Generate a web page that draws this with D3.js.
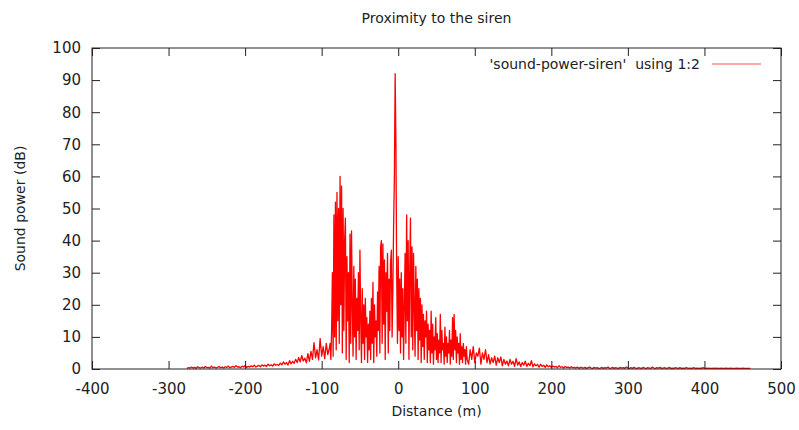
<!DOCTYPE html>
<html>
<head>
<meta charset="utf-8">
<title>Proximity to the siren</title>
<script src="https://d3js.org/d3.v7.min.js"></script>
<style>
  body { margin: 0; background: #fff; }
  text { font-family: "DejaVu Sans", sans-serif; fill: #222; }
</style>
</head>
<body>
<div id="chart"></div>
<script>

// sound power (dB), in three runs of samples

// -276 m to -90 m, every 2 m
var leftStart = -276, leftStep = 2;
var leftTail = [
  0.2,0.4,0.3,0.6,0.3,0.5,0.2,0.7,0.4,0.3,
  0.6,0.3,0.8,0.4,0.5,0.3,0.9,0.4,0.6,0.3,
  0.5,0.8,0.4,0.6,0.3,0.7,0.5,0.9,0.4,0.6,
  0.8,0.5,1.0,0.6,0.7,0.4,0.9,0.6,1.1,0.5,
  0.8,0.6,1.0,0.7,1.2,0.6,0.9,1.1,0.7,1.3,
  0.9,1.2,0.8,1.5,1.0,1.3,0.9,1.6,1.2,1.4,
  1.1,1.8,1.3,2.2,1.5,2.0,1.2,2.6,1.6,2.4,
  1.8,3.0,2.0,3.6,2.2,4.2,2.5,3.4,1.9,4.8,
  2.4,5.5,3.0,8.2,3.5,6.0,2.8,9.5,4.0,7.0,
  3.2,8.0,4.5,6.5
];

// -89 m to 90 m, every 1 m
var coreStart = -89, coreStep = 1;
var core = [
  8,3,12,30,4,48,10,52,6,55,
  15,50,8,60,20,57,5,50,12,40,
  47,3,35,15,30,2,42,8,43,20,
  4,32,10,28,3,22,12,30,6,37,
  15,2,25,8,20,3,22,10,16,2,
  14,6,18,3,22,8,27,2,20,10,
  15,4,24,12,32,5,38,40,8,39,
  14,34,3,30,18,36,5,28,12,33,
  37,10,25,45,60,92,70,30,8,35,
  12,28,5,30,10,25,3,20,36,8,
  48,15,40,3,30,47,10,38,6,36,
  20,4,32,12,28,3,25,9,22,2,
  20,7,17,3,15,10,18,2,14,6,
  12,2,18,5,14,1.5,10,6,16,3,
  11,2,9,5,17,2,12,6,8,1.5,
  13,4,10,2,8,5,12,1.5,9,4,
  16,3,17,6,12,2,10,5,8,1.5,
  11,3,7,2,8,4,6,1.5,7,3
];

// 92 m to 460 m, every 2 m
var rightStart = 92, rightStep = 2;
var rightTail = [
  1.5,6,3,7,2,5,
  4,6.5,1.5,5,3,6,2,4.5,1.5,3.5,
  2,4,1.2,3.5,2,3.8,1,3,1.5,2.5,
  1,3,1.5,2.4,0.8,3.2,1.2,2.2,0.8,2,
  1.2,2.4,0.8,1.8,1,2.6,0.7,1.6,1,1.4,
  0.6,1.5,0.8,1.2,0.5,1.3,0.7,1,0.5,0.9,
  0.6,0.8,0.4,1,0.5,0.7,0.3,0.8,0.5,0.6,
  0.3,0.7,0.4,0.5,0.3,0.6,0.2,0.5,0.4,0.3,
  0.5,0.2,0.4,0.6,0.3,0.2,0.5,0.3,0.4,0.2,
  0.3,0.5,0.2,0.4,0.3,0.6,0.2,0.3,0.5,0.2,
  0.4,0.3,0.2,0.5,0.3,0.4,0.2,0.6,0.3,0.2,
  0.4,0.2,0.5,0.3,0.2,0.4,0.3,0.2,0.5,0.3,
  0.2,0.4,0.3,0.2,0.6,0.3,0.2,0.4,0.3,0.5,
  0.2,0.3,0.4,0.2,0.3,0.5,0.2,0.3,0.2,0.4,
  0.3,0.2,0.4,0.2,0.3,0.2,0.4,0.3,0.2,0.3,
  0.2,0.4,0.2,0.3,0.2,0.3,0.2,0.4,0.2,0.3,
  0.2,0.3,0.2,0.2,0.3,0.2,0.3,0.2,0.2,0.3,
  0.2,0.2,0.3,0.2,0.2,0.3,0.2,0.2,0.2,0.3,
  0.2,0.2,0.2,0.3,0.2,0.2,0.2,0.2,0.2
];

var xTicks = [-400, -300, -200, -100, 0, 100, 200, 300, 400, 500];
var yTicks = [0, 10, 20, 30, 40, 50, 60, 70, 80, 90, 100];

var title = "Proximity to the siren";
var xLabel = "Distance (m)";
var yLabel = "Sound power (dB)";
var legendLabel = "'sound-power-siren'  using 1:2";

var W = 799, H = 430;
var margin = {top: 48, right: 18, bottom: 61, left: 92};
var width = W - margin.left - margin.right,
    height = H - margin.top - margin.bottom;

function run(start, step, values) {
  return values.map(function(v, i) { return {d: start + i * step, p: v}; });
}
var data = run(leftStart, leftStep, leftTail)
  .concat(run(coreStart, coreStep, core))
  .concat(run(rightStart, rightStep, rightTail));

var svg = d3.select("#chart").append("svg")
    .attr("width", W)
    .attr("height", H);

var g = svg.append("g")
    .attr("transform", "translate(" + margin.left + "," + margin.top + ")");

var x = d3.scaleLinear().domain([-400, 500]).range([0, width]);
var y = d3.scaleLinear().domain([0, 100]).range([height, 0]);

// clip to the plot box
svg.append("defs").append("clipPath").attr("id", "clip")
  .append("rect").attr("width", width).attr("height", height);

g.append("path")
    .datum(data)
    .attr("clip-path", "url(#clip)")
    .attr("fill", "none")
    .attr("stroke", "#ff0000")
    .attr("stroke-width", 1.3)
    .attr("stroke-linejoin", "round")
    .attr("d", d3.line()
      .x(function(d) { return x(d.d); })
      .y(function(d) { return y(d.p); }));

// axes, ticks pointing in on all four sides
function styleAxis(sel, showText) {
  sel.select(".domain").remove();
  sel.selectAll(".tick line").attr("stroke", "#222");
  sel.selectAll(".tick text")
    .style("font-size", "15px")
    .style("font-family", "DejaVu Sans, sans-serif")
    .attr("fill", "#222");
  if (!showText) sel.selectAll(".tick text").remove();
}
var plain = function(d) { return String(d); };  // gnuplot uses a hyphen, not a minus sign

g.append("g")
    .attr("transform", "translate(0," + height + ")")
    .call(d3.axisBottom(x).tickValues(xTicks).tickFormat(plain).tickSize(-8).tickPadding(14))
    .call(styleAxis, true);

g.append("g")
    .call(d3.axisTop(x).tickValues(xTicks).tickSize(-8))
    .call(styleAxis, false);

g.append("g")
    .call(d3.axisLeft(y).tickValues(yTicks).tickFormat(plain).tickSize(-8).tickPadding(11))
    .call(styleAxis, true);

g.append("g")
    .attr("transform", "translate(" + width + ",0)")
    .call(d3.axisRight(y).tickValues(yTicks).tickSize(-8))
    .call(styleAxis, false);

g.append("rect")
    .attr("width", width)
    .attr("height", height)
    .attr("fill", "none")
    .attr("stroke", "#222")
    .attr("stroke-width", 1);

// title and axis labels
svg.append("text")
    .attr("x", margin.left + width / 2)
    .attr("y", 23)
    .attr("text-anchor", "middle")
    .style("font-size", "14px")
    .text(title);

svg.append("text")
    .attr("x", margin.left + width / 2)
    .attr("y", 416)
    .attr("text-anchor", "middle")
    .style("font-size", "14px")
    .text(xLabel);

svg.append("text")
    .attr("transform", "translate(25," + (margin.top + height / 2) + ") rotate(-90)")
    .attr("text-anchor", "middle")
    .style("font-size", "14px")
    .text(yLabel);

// legend
svg.append("text")
    .attr("x", 700)
    .attr("y", 69)
    .attr("text-anchor", "end")
    .style("font-size", "14px")
    .style("white-space", "pre")
    .text(legendLabel);

svg.append("line")
    .attr("x1", 712).attr("x2", 761)
    .attr("y1", 64).attr("y2", 64)
    .attr("stroke", "#ff8a8a")
    .attr("stroke-width", 1.5);

</script>
</body>
</html>
